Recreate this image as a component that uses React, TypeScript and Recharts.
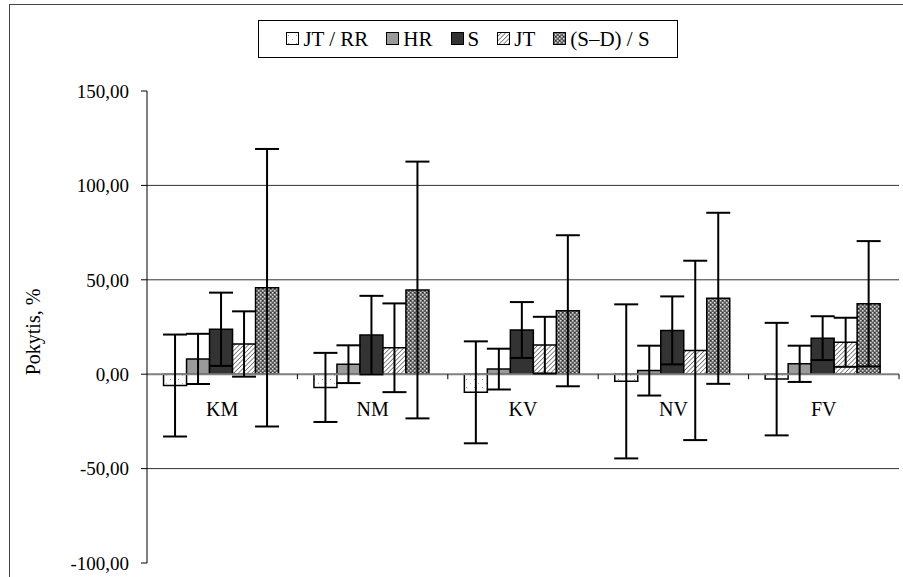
import { Bar, BarChart, ErrorBar, ReferenceLine, XAxis, YAxis } from "recharts";

const categories = ["KM", "NM", "KV", "NV", "FV"];
const jtRr = [-6, -7, -9.6, -3.8, -2.6];
const jtRrErr = [27, 18.3, 27, 40.8, 29.8];
const hr = [8.1, 5.3, 2.7, 1.9, 5.5];
const hrErr = [13.3, 10, 10.8, 13.2, 9.6];
const s = [23.8, 20.7, 23.4, 23.2, 19.1];
const sErr = [19.4, 20.8, 14.8, 18, 11.6];
const jt = [16, 14, 15.4, 12.6, 16.9];
const jtErr = [17.3, 23.5, 15, 47.5, 13];
const sd = [45.8, 44.6, 33.6, 40.2, 37.3];
const sdErr = [73.5, 68, 40, 45.3, 33.2];
const yTicks = [-100, -50, 0, 50, 100, 150];
const gridValues = [100, 50, -50];

const series = [
  { key: "jtRr", name: "JT / RR", fill: "pDots" },
  { key: "hr", name: "HR", fill: "" },
  { key: "s", name: "S", fill: "" },
  { key: "jt", name: "JT", fill: "pHatch" },
  { key: "sd", name: "(S–D) / S", fill: "pCheck" },
];
const solid: Record<string, string> = { hr: "#9a9a9a", s: "#333333" };

const data = categories.map((c, i) => ({
  cat: c,
  jtRr: jtRr[i],
  jtRrErr: jtRrErr[i],
  hr: hr[i],
  hrErr: hrErr[i],
  s: s[i],
  sErr: sErr[i],
  jt: jt[i],
  jtErr: jtErr[i],
  sd: sd[i],
  sdErr: sdErr[i],
}));

const FONT = "Liberation Serif";
const W = 903;
const H = 577;
const PLOT_TOP = 91;
const PLOT_BOTTOM = 563;
const PLOT_LEFT = 147;
const PLOT_RIGHT = 899;
const zeroY = PLOT_TOP + ((PLOT_BOTTOM - PLOT_TOP) * 150) / 250;
const band = (PLOT_RIGHT - PLOT_LEFT) / categories.length;

const fmt = (v: number) => v.toFixed(2).replace(".", ",");
const fillFor = (key: string, pat: string, suffix = "") =>
  pat ? `url(#${pat}${suffix})` : solid[key];

function Patterns({ suffix = "" }: { suffix?: string }) {
  return (
    <defs>
      <pattern id={"pDots" + suffix} width="8" height="8" patternUnits="userSpaceOnUse">
        <rect width="8" height="8" fill="#fff" />
        <rect x="2" y="3" width="1" height="1" fill="#999" />
        <rect x="6" y="7" width="1" height="1" fill="#bbb" />
      </pattern>
      <pattern
        id={"pHatch" + suffix}
        width="3.2"
        height="3.2"
        patternUnits="userSpaceOnUse"
        patternTransform="rotate(45)"
      >
        <rect width="3.2" height="3.2" fill="#fff" />
        <line x1="0" y1="0" x2="0" y2="3.2" stroke="#555" strokeWidth="1.4" />
      </pattern>
      <pattern id={"pCheck" + suffix} width="4" height="4" patternUnits="userSpaceOnUse">
        <rect width="4" height="4" fill="#5e5e5e" />
        <rect x="0" y="0" width="1.5" height="1.5" fill="#dcdcdc" />
        <rect x="2" y="2" width="1.5" height="1.5" fill="#dcdcdc" />
        <rect x="2" y="0" width="1" height="1" fill="#2a2a2a" />
      </pattern>
    </defs>
  );
}

function CatTick(props: any) {
  const { x, payload } = props;
  return (
    <g>
      <text x={x} y={zeroY + 42} textAnchor="middle" fontFamily={FONT} fontSize={20} fill="#000">
        {payload.value}
      </text>
      <line x1={x + band / 2} y1={zeroY} x2={x + band / 2} y2={zeroY + 5} stroke="#000" strokeWidth={1} />
    </g>
  );
}

function LegendBox() {
  return (
    <div
      style={{
        position: "absolute",
        left: 258,
        top: 20,
        width: 420,
        height: 38,
        boxSizing: "border-box",
        border: "1px solid #000",
        background: "#fff",
        display: "flex",
        alignItems: "center",
        justifyContent: "center",
        gap: 18,
        fontFamily: FONT,
        fontSize: 21,
        color: "#000",
      }}
    >
      {series.map((sr) => (
        <span key={sr.key} style={{ display: "flex", alignItems: "center" }}>
          <svg width={15} height={14} style={{ marginRight: 2 }}>
            <Patterns suffix="L" />
            <rect
              x={0.5}
              y={0.5}
              width={12}
              height={12}
              fill={fillFor(sr.key, sr.fill, "L")}
              stroke="#000"
              strokeWidth={1}
            />
          </svg>
          {sr.name}
        </span>
      ))}
    </div>
  );
}

export default function App() {
  return (
    <div
      style={{
        position: "absolute",
        left: 0,
        top: 0,
        width: W,
        height: H,
        background: "#fff",
        fontFamily: FONT,
        overflow: "hidden",
      }}
    >
      <div
        style={{
          position: "absolute",
          left: 9,
          top: 4,
          width: W,
          height: H,
          borderLeft: "1px solid #444",
          borderTop: "1px solid #444",
        }}
      />
      <div
        style={{
          position: "absolute",
          left: 33,
          top: 332,
          transform: "translate(-50%, -50%) rotate(-90deg)",
          fontFamily: FONT,
          fontSize: 20,
          whiteSpace: "nowrap",
        }}
      >
        Pokytis, %
      </div>
      <BarChart
        width={W}
        height={H}
        data={data}
        margin={{ top: PLOT_TOP, right: W - PLOT_RIGHT, bottom: H - PLOT_BOTTOM - 1, left: PLOT_LEFT - 70 }}
        barCategoryGap="11%"
        barGap={0}
        style={{ position: "absolute", left: 0, top: 0 }}
      >
        <Patterns />
        <XAxis dataKey="cat" height={1} axisLine={false} tickLine={false} tick={<CatTick />} interval={0} />
        <YAxis
          width={70}
          domain={[-100, 150]}
          ticks={yTicks}
          tickFormatter={fmt}
          axisLine={{ stroke: "#000" }}
          tickLine={{ stroke: "#000" }}
          tickSize={6}
          tickMargin={12}
          tick={{ fontFamily: FONT, fontSize: 19, fill: "#000" }}
          allowDataOverflow
        />
        {gridValues.map((g) => (
          <ReferenceLine key={g} y={g} stroke="#333" strokeWidth={1} />
        ))}
        <ReferenceLine y={0} stroke="#808080" strokeWidth={2} />
        {series.map((sr) => (
          <Bar
            key={sr.key}
            dataKey={sr.key}
            name={sr.name}
            fill={fillFor(sr.key, sr.fill)}
            stroke="#000"
            strokeWidth={1.5}
            isAnimationActive={false}
          >
            <ErrorBar dataKey={sr.key + "Err"} width={12} stroke="#000" strokeWidth={2} direction="y" />
          </Bar>
        ))}
      </BarChart>
      <LegendBox />
    </div>
  );
}
